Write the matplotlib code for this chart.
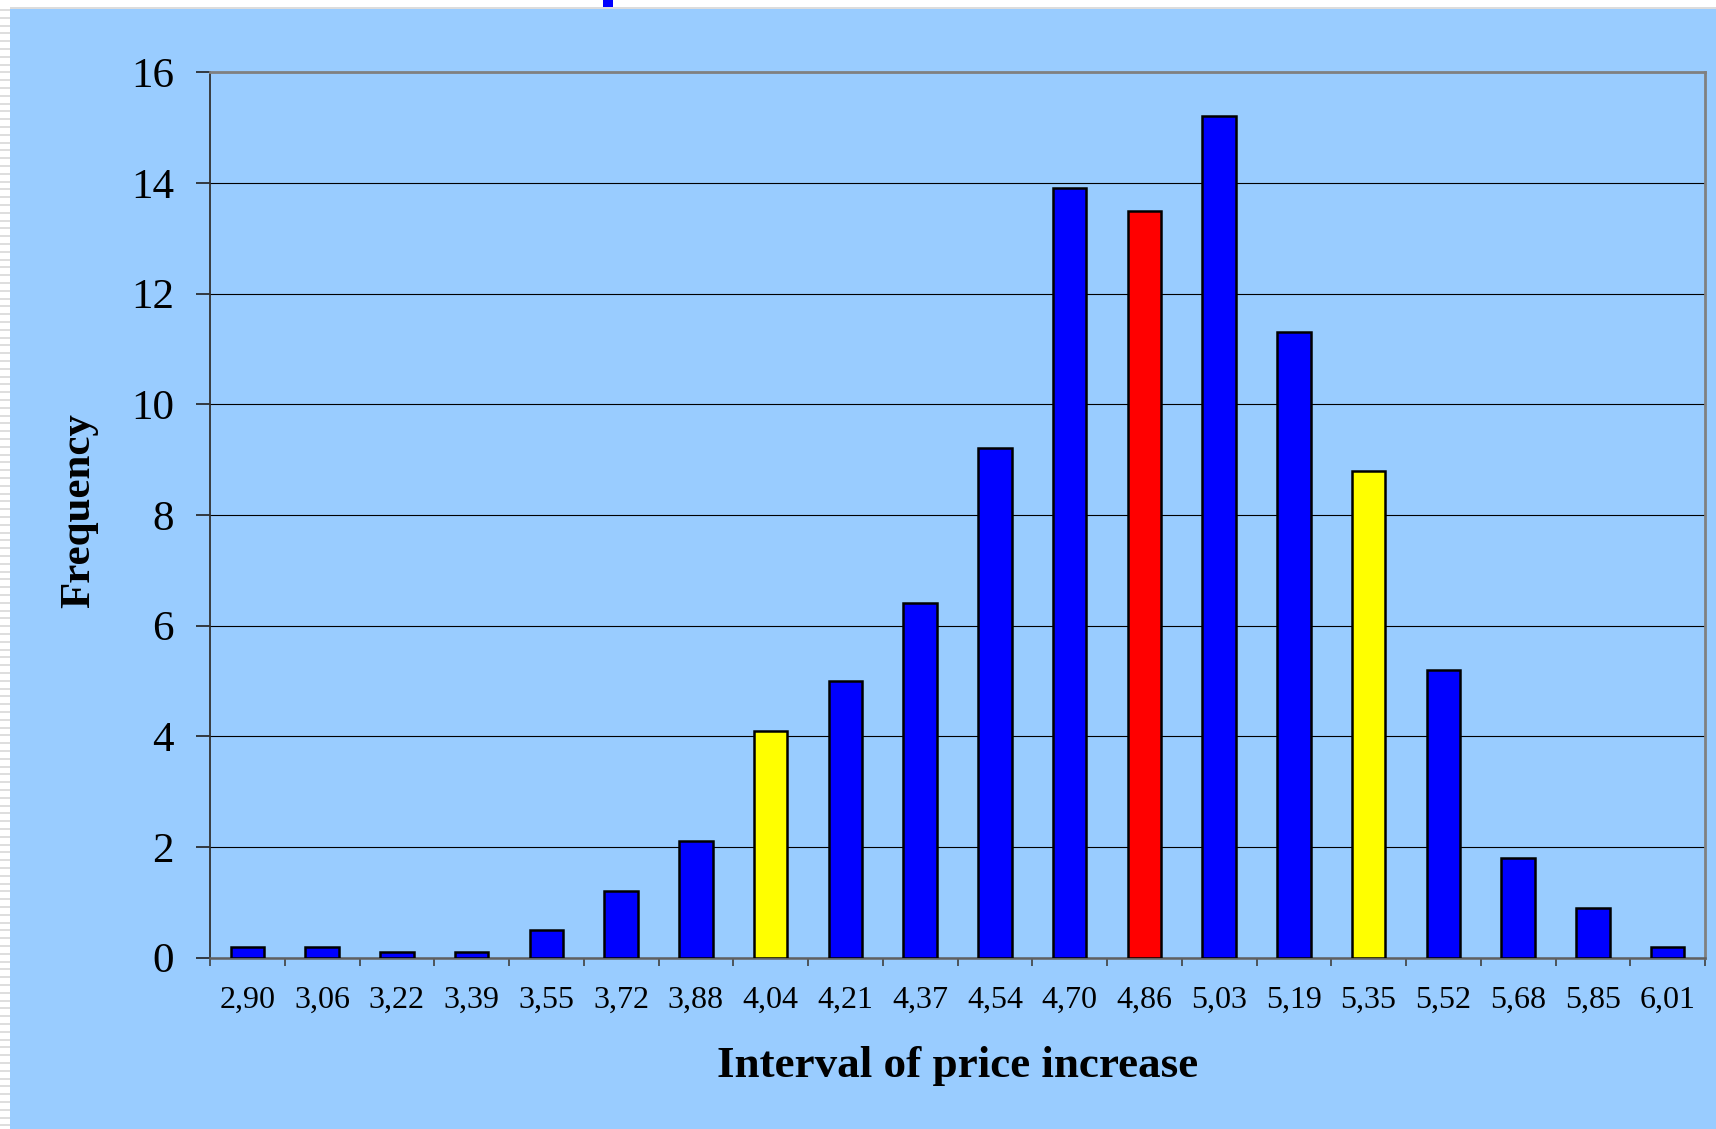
import matplotlib
matplotlib.use('Agg')
import matplotlib.pyplot as plt
from matplotlib.patches import Rectangle
import numpy as np

# price increase intervals and their frequencies
intervals = ['2,90', '3,06', '3,22', '3,39', '3,55', '3,72', '3,88', '4,04',
             '4,21', '4,37', '4,54', '4,70', '4,86', '5,03', '5,19', '5,35',
             '5,52', '5,68', '5,85', '6,01']
frequency = [0.2, 0.2, 0.1, 0.1, 0.5, 1.2, 2.1, 4.1,
             5.0, 6.4, 9.2, 13.9, 13.5, 15.2, 11.3, 8.8,
             5.2, 1.8, 0.9, 0.2]
# yellow = interval bounds, red = central interval
highlight = {'4,04': 'yellow', '5,35': 'yellow', '4,86': 'red'}

plt.rcParams['font.family'] = ['Liberation Serif', 'DejaVu Serif']

bg = '#99CCFF'
fig = plt.figure(figsize=(17.16, 11.29), dpi=100)
fig.patch.set_facecolor(bg)

# slide-style edges: white strip at the top, striped strip on the left
W, H = 1716.0, 1129.0
fig.patches.append(Rectangle((0, 1 - 9 / H), 1, 9 / H, transform=fig.transFigure,
                             facecolor='white', edgecolor='none', zorder=0))
fig.patches.append(Rectangle((0, 1 - 9 / H), 1, 1.5 / H, transform=fig.transFigure,
                             facecolor='#dcdcdc', edgecolor='none', zorder=0))
fig.patches.append(Rectangle((0, 0), 10 / W, 1, transform=fig.transFigure,
                             facecolor='white', edgecolor='none', zorder=0))
for yy in np.arange(9, H, 7.8):
    fig.patches.append(Rectangle((0, 1 - (yy + 2) / H), 10 / W, 2 / H,
                                 transform=fig.transFigure,
                                 facecolor='#dedede', edgecolor='none', zorder=0))
fig.patches.append(Rectangle((603 / W, 1 - 7 / H), 10 / W, 7 / H,
                             transform=fig.transFigure,
                             facecolor='#0000FF', edgecolor='none', zorder=1))

ax = fig.add_axes([210 / W, 1 - 957.6 / H, 1495 / W, 885.4 / H])
ax.set_facecolor(bg)

x = np.arange(len(intervals))
colors = [highlight.get(lbl, '#0000FF') for lbl in intervals]
ax.bar(x, frequency, width=0.45, color=colors, edgecolor='black',
       linewidth=1.8, zorder=3)

ax.set_xlim(-0.5, len(intervals) - 0.5)
ax.set_ylim(0, 16)
ax.set_yticks(np.arange(0, 17, 2))
ax.yaxis.grid(True, color='black', linewidth=0.8, zorder=1)

# category labels centred, tick marks on the boundaries
ax.set_xticks(x)
ax.set_xticklabels(intervals, fontsize=23)
ax.set_xticks(np.arange(-0.5, len(intervals)), minor=True)
ax.tick_params(axis='x', which='major', length=0, pad=20)
ax.tick_params(axis='x', which='minor', length=6, width=1.2, color='#404040')
ax.tick_params(axis='y', labelsize=31, length=10, width=1.2, pad=16,
               color='#202020')

for side in ['top', 'right']:
    ax.spines[side].set_color('#808080')
    ax.spines[side].set_linewidth(2)
ax.spines['left'].set_color('#303030')
ax.spines['left'].set_linewidth(1.3)
ax.spines['bottom'].set_color('#606060')
ax.spines['bottom'].set_linewidth(1.8)

ax.set_xlabel('Interval of price increase', fontsize=32.5, fontweight='bold')
ax.xaxis.set_label_coords(0.5, -0.100)
ax.xaxis.label.set_va('top')
ax.set_ylabel('Frequency', fontsize=31, fontweight='bold')
ax.yaxis.set_label_coords(-0.075, 0.505)

fig.savefig('out.png', dpi=100, facecolor=fig.get_facecolor())
